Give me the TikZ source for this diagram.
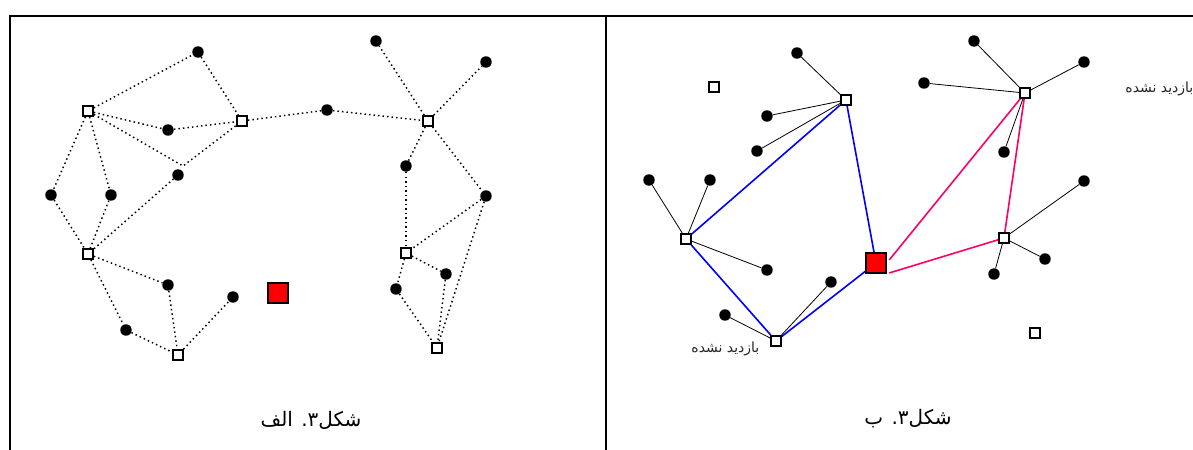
\documentclass[tikz,border=0pt]{standalone}
\usepackage{fontspec}
\usepackage{xcolor}
\usepackage{tikz}
\usetikzlibrary{calc}
\TeXXeTstate=1
\newfontfamily\arabicfont[Script=Arabic]{DejaVu Sans}
\definecolor{tour}{HTML}{0000FF}
\definecolor{tourb}{HTML}{FF0066}
\definecolor{base}{HTML}{FF0000}
\tikzset{
  hub/.style={rectangle,draw=black,fill=white,line width=1.4pt,minimum size=7.4pt,inner sep=0pt},
  sink/.style={rectangle,draw=black,fill=base,line width=1.5pt,minimum size=14.6pt,inner sep=0pt},
  pt/.style={circle,fill=black,minimum size=8.6pt,inner sep=0pt},
  dl/.style={line width=1.1pt,dash pattern=on 1.1pt off 2.3pt,draw=black},
  ln/.style={line width=0.6pt,draw=black},
  bl/.style={line width=1.2pt,draw=tour},
  pl/.style={line width=1.2pt,draw=tourb},
  lbl/.style={font=\arabicfont\fontsize{10.5}{12}\selectfont,text=black!85,inner sep=1pt},
  captxt/.style={font=\arabicfont\fontsize{15}{17}\selectfont,inner sep=1pt},
  frame/.style={line width=1.5pt,draw=black},
}
\begin{document}
\begin{tikzpicture}[x=0.75pt,y=-0.75pt]
  \useasboundingbox (0,0) rectangle (1193,450);
  \draw[frame] (10,450) -- (10,16) -- (1193,16);
  \draw[frame] (606,16) -- (606,450);
  % left panel
  \node[hub] (a1) at (88,111) {};
  \node[hub] (a2) at (242,121) {};
  \node[hub] (a3) at (428,121) {};
  \node[hub] (a4) at (88,254) {};
  \node[hub] (a5) at (178,355) {};
  \node[hub] (a6) at (406,253) {};
  \node[hub] (a7) at (437,348) {};
  \node[sink] (as) at (278,293) {};
  \node[pt] (p1) at (198,52) {};  \node[pt] (p2) at (376,41) {};  \node[pt] (p3) at (486,62) {};
  \node[pt] (p4) at (327,110) {}; \node[pt] (p5) at (168,130) {}; \node[pt] (p6) at (406,166) {};
  \node[pt] (p7) at (178,175) {}; \node[pt] (p8) at (51,195) {};  \node[pt] (p9) at (111,195) {};
  \node[pt] (p10) at (486,196) {};\node[pt] (p11) at (446,274) {};\node[pt] (p12) at (168,285) {};
  \node[pt] (p13) at (396,289) {};\node[pt] (p14) at (233,297) {};\node[pt] (p15) at (126,330) {};
  \coordinate (ak) at (183,166);
  \draw[dl](a1)--(p1);\draw[dl](p1)--(a2);\draw[dl](a1)--(p5);\draw[dl](p5)--(a2);
  \draw[dl](a1)--(ak)--(a2);\draw[dl](a1)--(p8);\draw[dl](p8)--(a4);\draw[dl](a1)--(p9);
  \draw[dl](p9)--(a4);\draw[dl](p7)--(a4);\draw[dl](a4)--(p12);\draw[dl](a4)--(p15);
  \draw[dl](p15)--(a5);\draw[dl](p12)--(a5);\draw[dl](a5)--(p14);
  \draw[dl](a2)--(p4);\draw[dl](p4)--(a3);\draw[dl](a3)--(p2);\draw[dl](a3)--(p3);
  \draw[dl](a3)--(p6);\draw[dl](a3)--(p10);\draw[dl](p6)--(a6);\draw[dl](p10)--(a6);
  \draw[dl](a6)--(p11);\draw[dl](a6)--(p13);\draw[dl](p13)--(a7);\draw[dl](p11)--(a7);\draw[dl](p10)--(a7);
  \node[captxt] (c1) at (311,420) {\beginR شکل۳. الف\endR};
  % right panel
  \node[hub] (b1) at (846,100) {};
  \node[hub] (b2) at (686,239) {};
  \node[hub] (b3) at (776,341) {};
  \node[hub] (b4) at (1025,93) {};
  \node[hub] (b5) at (1004,238) {};
  \node[hub] (b6) at (714,87) {};
  \node[hub] (b7) at (1035,333) {};
  \node[sink] (bs) at (876,263) {};
  \node[pt] (q1) at (797,53) {};  \node[pt] (q2) at (974,41) {};  \node[pt] (q3) at (1084,62) {};
  \node[pt] (q4) at (924,83) {};  \node[pt] (q5) at (767,116) {}; \node[pt] (q6) at (757,151) {};
  \node[pt] (q7) at (1004,152) {};\node[pt] (q8) at (649,180) {}; \node[pt] (q9) at (710,180) {};
  \node[pt] (q10) at (1084,181) {};\node[pt] (q11) at (1045,259) {};\node[pt] (q12) at (767,270) {};
  \node[pt] (q13) at (994,274) {};\node[pt] (q14) at (831,282) {};\node[pt] (q15) at (725,315) {};
  \draw[ln](b1)--(q1);\draw[ln](b1)--(q5);\draw[ln](b1)--(q6);
  \draw[ln](b2)--(q8);\draw[ln](b2)--(q9);\draw[ln](b2)--(q12);
  \draw[ln](b3)--(q15);\draw[ln](b3)--(q14);
  \draw[ln](b4)--(q2);\draw[ln](b4)--(q3);\draw[ln](b4)--(q4);\draw[ln](b4)--(q7);
  \draw[ln](b5)--(q10);\draw[ln](b5)--(q11);\draw[ln](b5)--(q13);
  \draw[bl](b2)--(b1);\draw[bl](b1)--(bs);\draw[bl](b2)--(b3);\draw[bl](b3)--(bs);
  \draw[pl,shorten <=3pt](bs.east)--(b4);\draw[pl](b4)--(b5);\draw[pl,shorten <=2pt](bs.south east)--(b5);
  \node[lbl,anchor=east] (l1) at (761,349) {\beginR بازدید نشده\endR};
  \node[lbl,anchor=east] (l2) at (1195,89) {\beginR بازدید نشده\endR};
  \node[captxt] (c2) at (908,419) {\beginR شکل۳. ب\endR};
\end{tikzpicture}
\end{document}
